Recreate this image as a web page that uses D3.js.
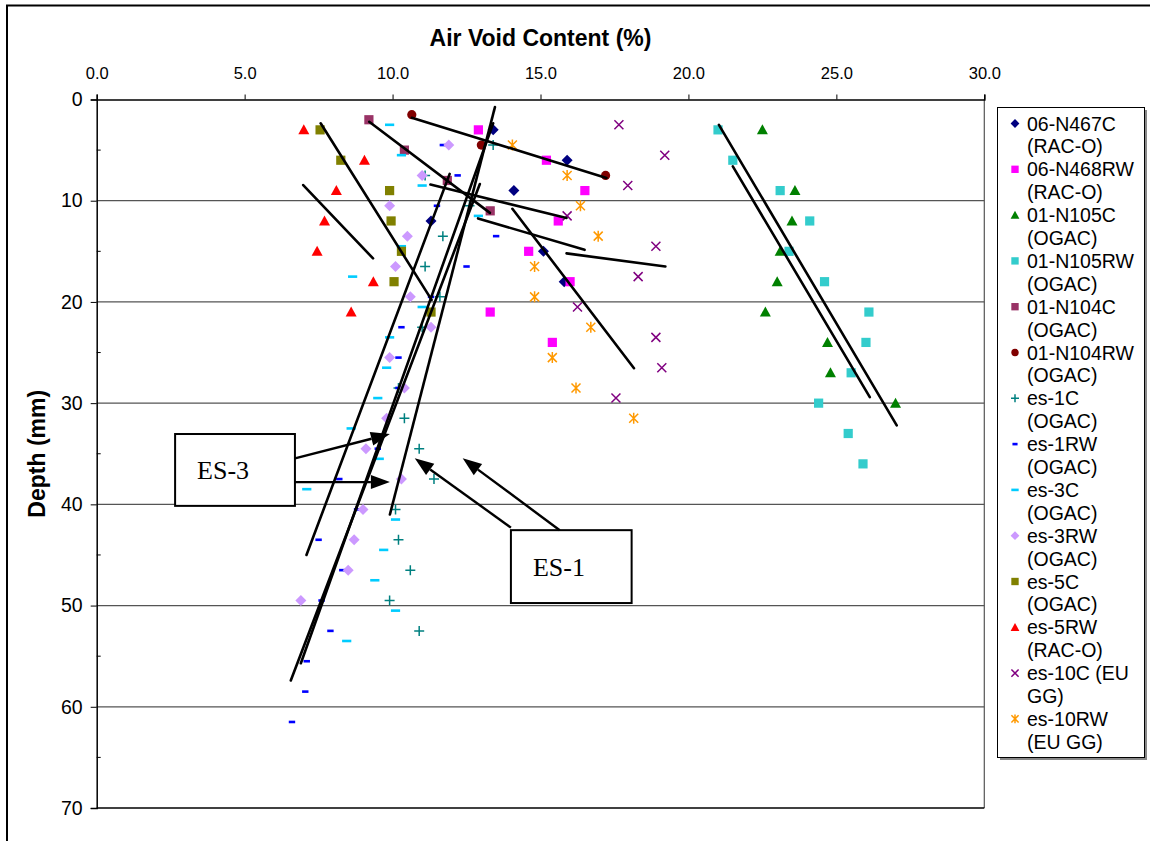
<!DOCTYPE html>
<html><head><meta charset="utf-8">
<script src="https://cdn.jsdelivr.net/npm/d3@7"></script>
<style>
html,body{margin:0;padding:0;background:#fff;}
svg{display:block;font-family:"Liberation Sans",Arial,sans-serif;}
</style></head>
<body>
<svg id="chart" width="1150" height="841"></svg>
<script>
// ---------- data ----------
const xTicks = [0, 5, 10, 15, 20, 25, 30];
const xTickLabels = ["0.0", "5.0", "10.0", "15.0", "20.0", "25.0", "30.0"];
const yTicks = [0, 10, 20, 30, 40, 50, 60, 70];
const yMinorTicks = [5, 15, 25, 35, 45, 55, 65];

// each point: [air void %, depth mm]
const s06N467C = [[13.4,3],[15.9,6],[14.1,9],[11.3,12],[15.1,15],[15.8,18]];
const s06N468RW = [[12.9,3],[15.2,6],[16.5,9],[15.6,12],[14.6,15],[16.0,18],[13.3,21],[15.4,24]];
const s01N105C = [[22.5,3],[23.6,9],[23.5,12],[23.1,15],[23.0,18],[22.6,21],[24.7,24],[24.8,27],[27.0,30]];
const s01N105RW = [[21.0,3],[21.5,6],[23.1,9],[24.1,12],[23.4,15],[24.6,18],[26.1,21],[26.0,24],[25.5,27],[24.4,30],[25.4,33],[25.9,36]];
const s01N104C = [[9.2,2],[10.4,5],[11.85,8],[13.3,11]];
const s01N104RW = [[10.65,1.5],[13.0,4.5],[17.2,7.5]];
const sEs1C = [[13.4,4.5],[11.1,7.5],[12.6,10.5],[11.7,13.5],[11.1,16.5],[11.6,19.5],[11.0,22.5],[10.2,28.5],[10.4,31.5],[10.9,34.5],[11.4,37.5],[10.1,40.5],[10.2,43.5],[10.6,46.5],[9.9,49.5],[10.9,52.5]];
const sEs1RW = [[11.7,4.5],[12.2,7.5],[11.5,10.5],[13.5,13.5],[12.5,16.5],[11.3,19.5],[10.3,22.5],[10.2,25.5],[10.2,28.5],[9.5,34.5],[8.2,37.5],[8.8,40.5],[7.5,43.5],[8.3,46.5],[7.6,49.5],[7.9,52.5],[7.1,55.5],[7.05,58.5],[6.6,61.5]];
const sEs3C = [[9.9,2.5],[10.3,5.5],[11.0,8.5],[12.9,11.5],[10.3,14.5],[8.65,17.5],[11.0,20.5],[9.9,23.5],[9.8,26.5],[9.5,29.5],[8.6,32.5],[9.55,35.5],[7.1,38.5],[10.1,41.5],[9.7,44.5],[9.4,47.5],[10.1,50.5],[8.45,53.5]];
const sEs3RW = [[11.9,4.5],[11.0,7.5],[9.9,10.5],[10.5,13.5],[10.1,16.5],[10.6,19.5],[11.3,22.5],[9.9,25.5],[10.4,28.5],[9.8,31.5],[9.1,34.5],[10.3,37.5],[9.0,40.5],[8.7,43.5],[8.5,46.5],[6.9,49.5]];
const sEs5C = [[7.55,3],[8.25,6],[9.9,9],[9.95,12],[10.3,15],[10.05,18],[11.3,21]];
const sEs5RW = [[7.0,3],[9.05,6],[8.1,9],[7.7,12],[7.45,15],[9.35,18],[8.6,21]];
const sEs10C = [[17.65,2.5],[19.2,5.5],[17.95,8.5],[15.9,11.5],[18.9,14.5],[18.3,17.5],[16.25,20.5],[18.9,23.5],[19.1,26.5],[17.55,29.5]];
const sEs10RW = [[14.05,4.5],[15.9,7.5],[16.35,10.5],[16.95,13.5],[14.8,16.5],[14.8,19.5],[16.7,22.5],[15.4,25.5],[16.2,28.5],[18.15,31.5]];

const seriesNames = [
  ["06-N467C","(RAC-O)"],["06-N468RW","(RAC-O)"],["01-N105C","(OGAC)"],["01-N105RW","(OGAC)"],
  ["01-N104C","(OGAC)"],["01-N104RW","(OGAC)"],["es-1C","(OGAC)"],["es-1RW","(OGAC)"],
  ["es-3C","(OGAC)"],["es-3RW","(OGAC)"],["es-5C","(OGAC)"],["es-5RW","(RAC-O)"],
  ["es-10C (EU","GG)"],["es-10RW","(EU GG)"]
];
const seriesColors = ["#000080","#FF00FF","#008000","#33CCCC","#993366","#800000","#008080","#0000FF","#00CCFF","#CC99FF","#808000","#FF0000","#800080","#FF9900"];
const seriesShapes = ["diamond","square","triangle","square","square","circle","plus","dashS","dashL","diamond","square","triangle","x","star"];
const seriesData = [s06N467C,s06N468RW,s01N105C,s01N105RW,s01N104C,s01N104RW,sEs1C,sEs1RW,sEs3C,sEs3RW,sEs5C,sEs5RW,sEs10C,sEs10RW];

// hand-drawn trend lines: [x1, depth1, x2, depth2]
const trendLines = [
  [10.65,1.8,17.23,7.75],
  [9.21,2.2,13.29,11.2],
  [7.57,2.35,11.32,19.8],
  [6.98,8.45,9.34,15.7],
  [11.28,8.4,15.88,11.7],
  [12.89,11.75,16.49,14.85],
  [15.88,15.2,19.22,16.5],
  [14.05,10.8,18.16,26.55],
  [21.03,2.5,27.04,32.2],
  [21.5,6.6,26.13,29.4],
  [13.46,0.75,9.91,41.0],
  [13.40,2.35,6.90,55.7],
  [12.95,8.35,6.56,57.4],
  [11.93,7.35,7.09,45.0]
];
// annotation boxes: [label, x1, depth1, x2, depth2]
const noteBoxes = [["ES-3",2.65,33.05,6.70,40.15],["ES-1",14.0,42.55,18.08,49.75]];
// arrows: [xFrom, dFrom, xTo, dTo]
const arrows = [
  [6.70,35.45,9.91,33.05],
  [6.70,37.8,9.91,37.8],
  [14.0,42.3,10.75,35.45],
  [15.65,42.55,12.37,35.45]
];

// ---------- layout ----------
const svg = d3.select("#chart");
const L = 96.7, R = 984.3, T = 99.5, B = 808;
const x = d3.scaleLinear().domain([0,30]).range([L,R]);
const y = d3.scaleLinear().domain([0,70]).range([T,B]);

// outer chart border
svg.append("rect").attr("x",7).attr("y",5.5).attr("width",1160).attr("height",900)
  .attr("fill","none").attr("stroke","#000").attr("stroke-width",2);

// plot right border
svg.append("line").attr("x1",R).attr("x2",R).attr("y1",T).attr("y2",B).attr("stroke","#555").attr("stroke-width",1.2);

// gridlines
svg.append("g").selectAll("line").data(yTicks.filter(d=>d>0)).join("line")
  .attr("x1",L).attr("x2",R).attr("y1",d=>y(d)).attr("y2",d=>y(d))
  .attr("stroke",d=>d===70?"#000":"#555").attr("stroke-width",d=>d===70?1.5:1.2);

// x axis (top)
const xAxis = d3.axisTop(x).tickValues(xTicks).tickFormat((d,i)=>xTickLabels[i]).tickSize(5).tickPadding(16);
const gx = svg.append("g").attr("transform",`translate(0,${T})`).call(xAxis);
gx.select(".domain").attr("stroke","#000").attr("stroke-width",1.5);
gx.selectAll(".tick line").attr("stroke","#000");
gx.selectAll("text").attr("font-size",16.5).attr("fill","#000").attr("font-family","Liberation Sans, Arial, sans-serif");

// y axis (left)
const yAxis = d3.axisLeft(y).tickValues(yTicks).tickSize(6).tickPadding(8);
const gy = svg.append("g").attr("transform",`translate(${L},0)`).call(yAxis);
gy.select(".domain").attr("stroke","#000").attr("stroke-width",1.5);
gy.selectAll(".tick line").attr("stroke","#000");
gy.selectAll("text").attr("font-size",19.5).attr("fill","#000").attr("font-family","Liberation Sans, Arial, sans-serif");
svg.append("g").selectAll("line").data(yMinorTicks).join("line")
  .attr("x1",L).attr("x2",L+4).attr("y1",d=>y(d)).attr("y2",d=>y(d)).attr("stroke","#000");

// titles
svg.append("text").attr("x",(L+R)/2).attr("y",46).attr("text-anchor","middle")
  .attr("font-weight","bold").attr("font-size",23).text("Air Void Content (%)");
svg.append("text").attr("transform",`translate(45,${(T+B)/2}) rotate(-90)`).attr("text-anchor","middle")
  .attr("font-weight","bold").attr("font-size",23).text("Depth (mm)");

// ---------- markers ----------
function drawMarker(g, shape, color, s) {
  s = s || 1;
  switch (shape) {
    case "diamond": g.append("path").attr("d",`M0,${-5.5*s}L${5.5*s},0L0,${5.5*s}L${-5.5*s},0Z`).attr("fill",color); break;
    case "square": g.append("rect").attr("x",-4.6*s).attr("y",-4.6*s).attr("width",9.2*s).attr("height",9.2*s).attr("fill",color); break;
    case "triangle": g.append("path").attr("d",`M0,${-5.5*s}L${5.5*s},${4.5*s}L${-5.5*s},${4.5*s}Z`).attr("fill",color); break;
    case "circle": g.append("circle").attr("r",4.6*s).attr("fill",color); break;
    case "plus": g.append("path").attr("d",`M${-5*s},0H${5*s}M0,${-5*s}V${5*s}`).attr("stroke",color).attr("stroke-width",1.5).attr("fill","none"); break;
    case "x": g.append("path").attr("d",`M${-4.5*s},${-4.5*s}L${4.5*s},${4.5*s}M${-4.5*s},${4.5*s}L${4.5*s},${-4.5*s}`).attr("stroke",color).attr("stroke-width",1.5).attr("fill","none"); break;
    case "star": g.append("path").attr("d",`M${-4.5*s},${-4.5*s}L${4.5*s},${4.5*s}M${-4.5*s},${4.5*s}L${4.5*s},${-4.5*s}M0,${-5.5*s}V${5.5*s}`).attr("stroke",color).attr("stroke-width",1.5).attr("fill","none"); break;
    case "dashS": g.append("rect").attr("x",-3.2*s).attr("y",-1.3).attr("width",6.4*s).attr("height",2.6).attr("fill",color); break;
    case "dashL": g.append("rect").attr("x",-4.6*s).attr("y",-1.3).attr("width",9.2*s).attr("height",2.6).attr("fill",color); break;
  }
}

const gPts = svg.append("g");
seriesData.forEach((data, i) => {
  const gs = gPts.append("g");
  data.forEach(p => {
    const g = gs.append("g").attr("transform",`translate(${x(p[0])},${y(p[1])})`);
    drawMarker(g, seriesShapes[i], seriesColors[i]);
  });
});

// trend lines
svg.append("g").selectAll("line").data(trendLines).join("line")
  .attr("x1",d=>x(d[0])).attr("y1",d=>y(d[1])).attr("x2",d=>x(d[2])).attr("y2",d=>y(d[3]))
  .attr("stroke","#000").attr("stroke-width",2.6).attr("stroke-linecap","round");

// annotation boxes
const gb = svg.append("g");
noteBoxes.forEach(b => {
  gb.append("rect").attr("x",x(b[1])).attr("y",y(b[2])).attr("width",x(b[3])-x(b[1])).attr("height",y(b[4])-y(b[2]))
    .attr("fill","#fff").attr("stroke","#000").attr("stroke-width",2);
  gb.append("text").attr("x",x(b[1])+22).attr("y",(y(b[2])+y(b[4]))/2+9)
    .attr("font-family","Liberation Serif, Times New Roman, serif").attr("font-size",26).text(b[0]);
});

// arrows
arrows.forEach(a => {
  const x1 = x(a[0]), y1 = y(a[1]), x2 = x(a[2]), y2 = y(a[3]);
  const ang = Math.atan2(y2-y1, x2-x1);
  const len = 19, hw = 7;
  const bx = x2 - len*Math.cos(ang), by = y2 - len*Math.sin(ang);
  svg.append("line").attr("x1",x1).attr("y1",y1).attr("x2",bx).attr("y2",by).attr("stroke","#000").attr("stroke-width",2.4);
  const px = -Math.sin(ang)*hw, py = Math.cos(ang)*hw;
  svg.append("path").attr("d",`M${x2},${y2}L${bx+px},${by+py}L${bx-px},${by-py}Z`).attr("fill","#000");
});

// ---------- legend ----------
const lg = svg.append("g");
lg.append("rect").attr("x",1000).attr("y",110).attr("width",147).attr("height",650).attr("fill","#888");
lg.append("rect").attr("x",997.5).attr("y",107.5).attr("width",147).attr("height",650).attr("fill","#fff").attr("stroke","#000").attr("stroke-width",1);
seriesNames.forEach((nm, i) => {
  const cy = 123.5 + i*45.8;
  const g = lg.append("g").attr("transform",`translate(1015,${cy})`);
  drawMarker(g, seriesShapes[i], seriesColors[i], 0.8);
  lg.append("text").attr("x",1027).attr("y",cy+7).attr("font-size",19.5).text(nm[0]);
  lg.append("text").attr("x",1027).attr("y",cy+7+22.9).attr("font-size",19.5).text(nm[1]);
});
</script>
</body></html>
